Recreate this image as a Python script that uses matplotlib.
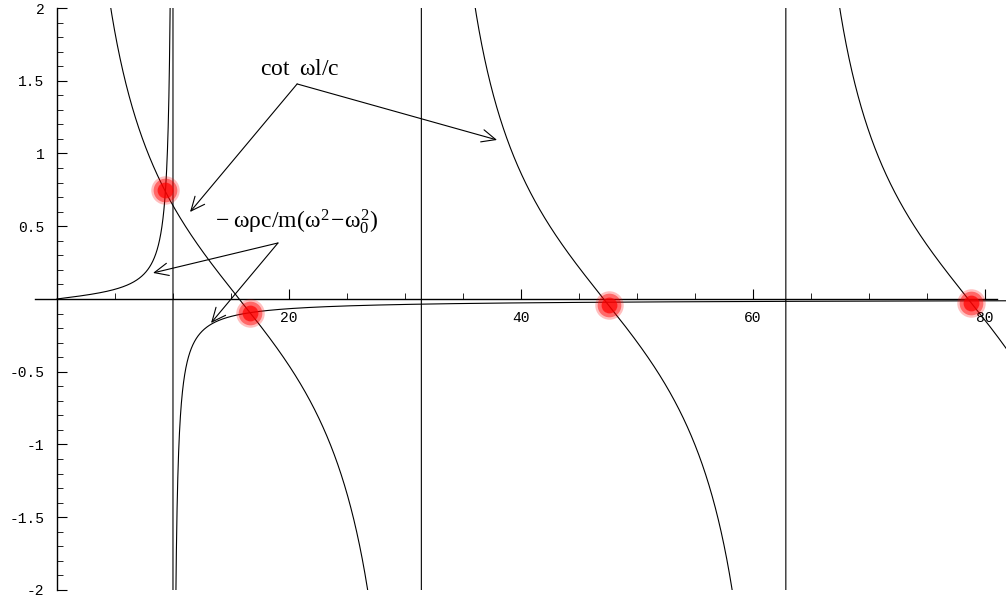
import numpy as np
import matplotlib.pyplot as plt
from matplotlib.patches import Rectangle
from matplotlib.ticker import MultipleLocator, FixedLocator

plt.rcParams['mathtext.fontset'] = 'custom'
plt.rcParams['mathtext.rm'] = 'Liberation Serif'
plt.rcParams['mathtext.it'] = 'Liberation Serif'
plt.rcParams['mathtext.bf'] = 'Liberation Serif:bold'

# parameters
l_over_c = 0.1      # cot asymptotes at 0, 31.4, 62.8
omega0 = 10.0       # resonance of the mass term
rho_c_over_m = 1.0

# intersections marked with red dots (omega, value)
dot_x = [9.3, 16.6, 47.6, 78.8]
dot_y = [0.75, -0.095, -0.04, -0.03]

xticks = [20, 40, 60, 80]
yticks = [-2, -1.5, -1, -0.5, 0.5, 1, 1.5, 2]
ytick_labels = ['-2', '-1.5', '-1', '-0.5', '0.5', '1', '1.5', '2']

omega = np.linspace(0.001, 82, 8001)
cot_curve = 1.0 / np.tan(omega * l_over_c)
mass_curve = -omega * rho_c_over_m / (omega**2 - omega0**2)

fig = plt.figure(figsize=(10.06, 6.0), dpi=100)
ax = fig.add_axes([0, 0, 1, 1])
ax.set_xlim(-4.91, 81.8)
ax.set_ylim(-2.069, 2.055)

clip = Rectangle((-5, -2), 100, 4, transform=ax.transData)
for yv in (cot_curve, mass_curve):
    ln, = ax.plot(omega, yv, color='black', lw=0.8)
    ln.set_clip_path(clip)

# axes through the origin, Mathematica style
ax.spines['right'].set_visible(False)
ax.spines['top'].set_visible(False)
ax.spines['left'].set_position(('data', 0))
ax.spines['bottom'].set_position(('data', 0))
ax.spines['left'].set_bounds(-2, 2)
ax.spines['bottom'].set_bounds(-1.9, 81.0)
for s in ('left', 'bottom'):
    ax.spines[s].set_linewidth(1.0)

ax.xaxis.set_major_locator(FixedLocator(xticks))
ax.xaxis.set_minor_locator(MultipleLocator(5))
ax.yaxis.set_major_locator(FixedLocator(yticks))
ax.yaxis.set_minor_locator(MultipleLocator(0.1))
ax.set_yticklabels(ytick_labels)
ax.tick_params(which='major', direction='in', length=7, width=0.8,
               labelsize=10.5)
ax.tick_params(which='minor', direction='in', length=4, width=0.6)
ax.tick_params(axis='x', pad=9)
ax.tick_params(axis='y', pad=9)
for lab in ax.get_xticklabels() + ax.get_yticklabels():
    lab.set_fontfamily('Liberation Mono')

# glowing red markers
ax.scatter(dot_x, dot_y, s=420, color='red', alpha=0.25, lw=0, zorder=5)
ax.scatter(dot_x, dot_y, s=290, color='red', alpha=0.45, lw=0, zorder=6)
ax.scatter(dot_x, dot_y, s=130, color='red', alpha=0.7, lw=0, zorder=7)

arrow = dict(arrowstyle='->, head_length=1.0, head_width=0.45', lw=0.8,
             color='black', shrinkA=0, shrinkB=0)

ax.text(20.9, 1.574, r'cot$\;\;\omega$l/c', fontsize=17, family='Liberation Serif',
        ha='center', va='center')
ax.annotate('', xy=(11.47, 0.598), xytext=(20.7, 1.478), arrowprops=arrow)
ax.annotate('', xy=(37.93, 1.093), xytext=(20.7, 1.478), arrowprops=arrow)

ax.text(20.7, 0.43, r'$\mathrm{-}\;\omega\rho c/m(\omega^2\!-\!\omega_0^2)$',
        fontsize=17, ha='center', va='bottom')
ax.annotate('', xy=(8.28, 0.179), xytext=(19.05, 0.385), arrowprops=arrow)
ax.annotate('', xy=(13.28, -0.165), xytext=(19.05, 0.385), arrowprops=arrow)

fig.savefig('out.png', dpi=100)
